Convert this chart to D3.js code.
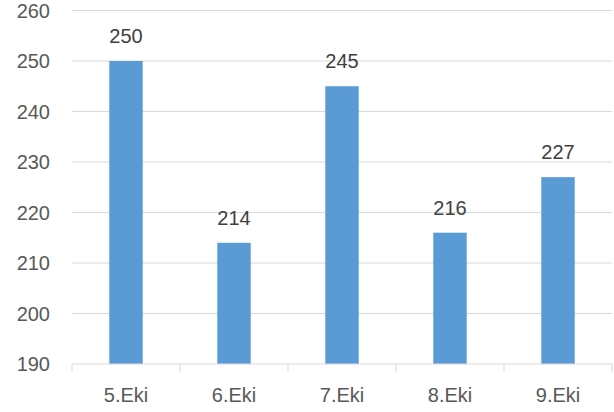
<!DOCTYPE html>
<html>
<head>
<meta charset="utf-8">
<script src="https://cdn.jsdelivr.net/npm/d3@7"></script>
<style>
  body { margin: 0; background: #fff; }
  text { font-family: "Liberation Sans", Arial, sans-serif; }
</style>
</head>
<body>
<script>
var categories = ["5.Eki", "6.Eki", "7.Eki", "8.Eki", "9.Eki"];
var values = [250, 214, 245, 216, 227];
var yTicks = [190, 200, 210, 220, 230, 240, 250, 260];

var svgWidth = 614;
var svgHeight = 412;
var plotLeft = 72, plotRight = 612, plotTop = 10.5, plotBottom = 364;

var svg = d3.select("body")
            .append("svg")
            .attr("width", svgWidth)
            .attr("height", svgHeight);

var xScale = d3.scaleBand()
               .domain(categories)
               .range([plotLeft, plotRight])
               .paddingInner(0.69)
               .paddingOuter(0.345);

var yScale = d3.scaleLinear()
               .domain([190, 260])
               .range([plotBottom, plotTop]);

// gridlines
svg.selectAll(".grid")
   .data(yTicks.slice(1))
   .enter()
   .append("line")
   .attr("x1", plotLeft)
   .attr("x2", plotRight)
   .attr("y1", function(d) { return yScale(d); })
   .attr("y2", function(d) { return yScale(d); })
   .attr("stroke", "#d9d9d9")
   .attr("stroke-width", 1);

// y tick labels
svg.selectAll(".ylab")
   .data(yTicks)
   .enter()
   .append("text")
   .attr("x", 50)
   .attr("y", function(d) { return yScale(d); })
   .attr("dy", "0.35em")
   .attr("text-anchor", "end")
   .attr("font-size", 20)
   .attr("fill", "#595959")
   .text(function(d) { return d; });

// bars
svg.selectAll("rect")
   .data(values)
   .enter()
   .append("rect")
   .attr("x", function(d, i) { return xScale(categories[i]); })
   .attr("y", function(d) { return yScale(d); })
   .attr("width", xScale.bandwidth())
   .attr("height", function(d) { return plotBottom - yScale(d); })
   .attr("fill", "#5b9bd5");

// value labels
svg.selectAll(".vlab")
   .data(values)
   .enter()
   .append("text")
   .attr("x", function(d, i) { return xScale(categories[i]) + xScale.bandwidth() / 2; })
   .attr("y", function(d) { return yScale(d) - 18; })
   .attr("text-anchor", "middle")
   .attr("font-size", 20)
   .attr("fill", "#404040")
   .text(function(d) { return d; });

// x axis
svg.append("line")
   .attr("x1", plotLeft).attr("x2", plotRight)
   .attr("y1", plotBottom).attr("y2", plotBottom)
   .attr("stroke", "#d9d9d9");

svg.selectAll(".xtick")
   .data(d3.range(categories.length + 1))
   .enter()
   .append("line")
   .attr("x1", function(d) { return plotLeft + d * (plotRight - plotLeft) / categories.length; })
   .attr("x2", function(d) { return plotLeft + d * (plotRight - plotLeft) / categories.length; })
   .attr("y1", plotBottom)
   .attr("y2", plotBottom + 8)
   .attr("stroke", "#d9d9d9");

svg.selectAll(".xlab")
   .data(categories)
   .enter()
   .append("text")
   .attr("x", function(d) { return xScale(d) + xScale.bandwidth() / 2; })
   .attr("y", 402)
   .attr("text-anchor", "middle")
   .attr("font-size", 20)
   .attr("fill", "#595959")
   .text(function(d) { return d; });
</script>
</body>
</html>
